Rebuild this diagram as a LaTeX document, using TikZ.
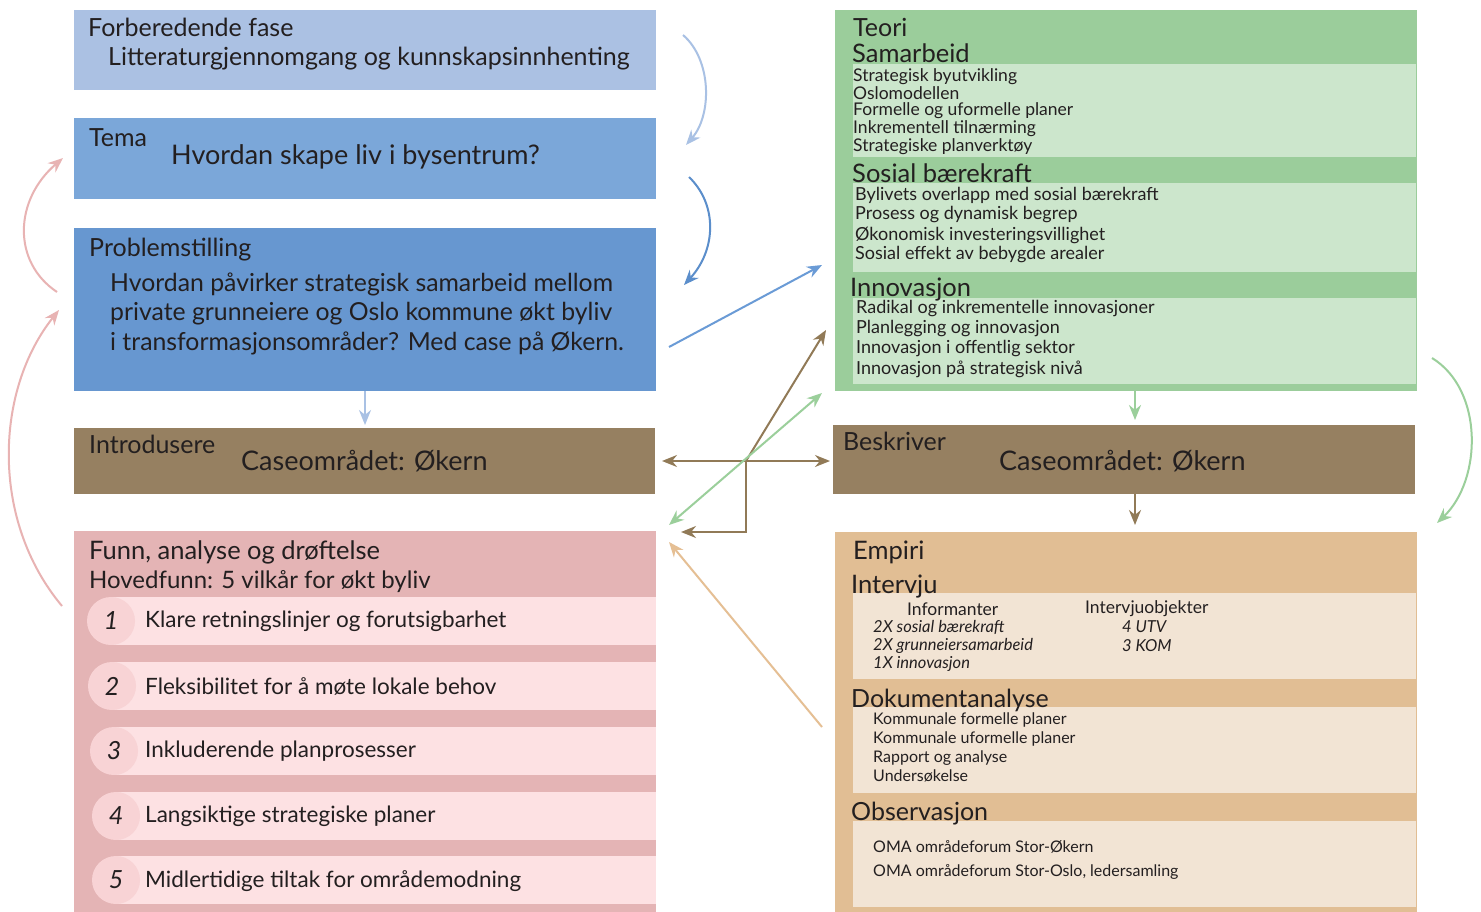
\documentclass[tikz,border=0pt]{standalone}
\usepackage{fontspec}
\setmainfont{Lato}
\usetikzlibrary{arrows.meta}
\definecolor{cFor}{HTML}{ABC1E3}
\definecolor{cTema}{HTML}{7BA7D9}
\definecolor{cProb}{HTML}{6797D0}
\definecolor{cBrown}{HTML}{968061}
\definecolor{cPink}{HTML}{E4B4B5}
\definecolor{cPinkL}{HTML}{FDE1E3}
\definecolor{cPinkC}{HTML}{F8D3D5}
\definecolor{cGreen}{HTML}{9BCD9B}
\definecolor{cGreenL}{HTML}{CCE6CC}
\definecolor{cTan}{HTML}{E1BE94}
\definecolor{cTanL}{HTML}{F2E4D4}
\definecolor{cTxt}{HTML}{231F20}
\definecolor{aLB}{HTML}{A9C1E4}
\definecolor{aB}{HTML}{5B8ECB}
\definecolor{aB2}{HTML}{6A9BD6}
\definecolor{aBr}{HTML}{917A57}
\definecolor{aG}{HTML}{9BCF9B}
\definecolor{aT}{HTML}{E5BF94}
\definecolor{aP}{HTML}{E8B3B3}
\newcommand\fsz[1]{\fontsize{#1pt}{#1pt}\selectfont}
\tikzset{
  box/.style={rectangle, inner sep=0pt, outer sep=0pt, anchor=north west, draw=none},
  txt/.style={inner sep=0pt, anchor=west, text=cTxt},
  btxt/.style={inner sep=0pt, anchor=base west, text=cTxt},
  arr/.style={line width=2pt, -{Stealth[length=15pt,width=12pt]}},
  darr/.style={line width=2pt, {Stealth[length=15pt,width=12pt]}-{Stealth[length=15pt,width=12pt]}},
  num/.style={circle, inner sep=0pt, minimum size=48pt, fill=cPinkC},
}
\begin{document}
\begin{tikzpicture}[x=1pt,y=-1pt]
\useasboundingbox (0,0) rectangle (1481,912);
\fill[white] (0,0) rectangle (1481,912);

% ---------- left column ----------
\node[box, fill=cFor, minimum width=582pt, minimum height=80pt] (for) at (74,10) {};
\node[txt, font=\fsz{25}] (forT) at (88,27) {Forberedende fase};
\node[txt, font=\fsz{25}] (forS) at (108,59) {Litteraturgjennomgang og kunnskapsinnhenting};

\node[box, fill=cTema, minimum width=582pt, minimum height=81pt] (tema) at (74,118) {};
\node[txt, font=\fsz{25}] (temaT) at (89,138) {Tema};
\node[txt, font=\fsz{27}] (temaS) at (171,157) {Hvordan skape liv i bysentrum?};

\node[box, fill=cProb, minimum width=582pt, minimum height=163pt] (prob) at (74,228) {};
\node[txt, font=\fsz{25}] (probT) at (89,250) {Problemstilling};
\node[txt, font=\fsz{24.8}] (probS1) at (110,284) {Hvordan påvirker strategisk samarbeid mellom};
\node[txt, font=\fsz{24.8}] (probS2) at (110,314) {private grunneiere og Oslo kommune økt byliv};
\node[txt, font=\fsz{24.8}] (probS3) at (110,343) {i transformasjonsområder? Med case på Økern.};

\node[box, fill=cBrown, minimum width=581pt, minimum height=66pt] (intro) at (74,428) {};
\node[txt, font=\fsz{25}] (introT) at (89,444) {Introdusere};
\node[txt, font=\fsz{27}] (introS) at (241,461) {Caseområdet: Økern};

\node[box, fill=cPink, minimum width=582pt, minimum height=381pt] (funn) at (74,531) {};
\node[txt, font=\fsz{25.5}] (funnT) at (89,552) {Funn, analyse og drøftelse};
\node[txt, font=\fsz{24}] (funnS) at (89,582) {Hovedfunn: 5 vilkår for økt byliv};

\node[box, fill=cPinkL, minimum width=544pt, minimum height=48pt] (b1) at (112,597) {};
\node[box, fill=cPinkL, minimum width=544pt, minimum height=48pt] (b2) at (112,662) {};
\node[box, fill=cPinkL, minimum width=542pt, minimum height=48pt] (b3) at (114,727) {};
\node[box, fill=cPinkL, minimum width=540pt, minimum height=48pt] (b4) at (116,792) {};
\node[box, fill=cPinkL, minimum width=540pt, minimum height=48pt] (b5) at (116,856) {};
\node[num] (n1) at (111,621) {};
\node[num] (n2) at (112,686) {};
\node[num] (n3) at (114,751) {};
\node[num] (n4) at (116,816) {};
\node[num] (n5) at (116,880) {};
\node[font=\fsz{25}\itshape, text=cTxt, inner sep=0pt] (l1) at (n1) {1};
\node[font=\fsz{25}\itshape, text=cTxt, inner sep=0pt] (l2) at (n2) {2};
\node[font=\fsz{25}\itshape, text=cTxt, inner sep=0pt] (l3) at (n3) {3};
\node[font=\fsz{25}\itshape, text=cTxt, inner sep=0pt] (l4) at (n4) {4};
\node[font=\fsz{25}\itshape, text=cTxt, inner sep=0pt] (l5) at (n5) {5};
\node[txt, font=\fsz{22.5}] (i1) at (145,621) {Klare retningslinjer og forutsigbarhet};
\node[txt, font=\fsz{22.5}] (i2) at (145,686) {Fleksibilitet for å møte lokale behov};
\node[txt, font=\fsz{22.5}] (i3) at (145,751) {Inkluderende planprosesser};
\node[txt, font=\fsz{22.5}] (i4) at (145,816) {Langsiktige strategiske planer};
\node[txt, font=\fsz{22.5}] (i5) at (145,881) {Midlertidige tiltak for områdemodning};

% ---------- right column ----------
\node[box, fill=cGreen, minimum width=582pt, minimum height=381pt] (teori) at (835,10) {};
\node[box, fill=cGreenL, minimum width=563pt, minimum height=93pt] (g1) at (853,64) {};
\node[box, fill=cGreenL, minimum width=563pt, minimum height=89pt] (g2) at (853,183) {};
\node[box, fill=cGreenL, minimum width=563pt, minimum height=86pt] (g3) at (853,298) {};
\node[txt, font=\fsz{25}] (teoriT) at (853,27) {Teori};
\node[btxt, font=\fsz{25.5}] (samT) at (852,63) {Samarbeid};
\node[txt, font=\fsz{17.5}] (s1) at (853,76.5) {Strategisk byutvikling};
\node[txt, font=\fsz{17.5}] (s2) at (853,93.5) {Oslomodellen};
\node[txt, font=\fsz{17.5}] (s3) at (853,111) {Formelle og uformelle planer};
\node[txt, font=\fsz{17.5}] (s4) at (853,129) {Inkrementell tilnærming};
\node[txt, font=\fsz{17.5}] (s5) at (853,146.5) {Strategiske planverktøy};
\node[btxt, font=\fsz{25.5}] (sosT) at (852,183) {Sosial bærekraft};
\node[txt, font=\fsz{18}] (o1) at (855,195) {Bylivets overlapp med sosial bærekraft};
\node[txt, font=\fsz{18}] (o2) at (855,215) {Prosess og dynamisk begrep};
\node[txt, font=\fsz{18}] (o3) at (855,235) {Økonomisk investeringsvillighet};
\node[txt, font=\fsz{18}] (o4) at (855,255) {Sosial effekt av bebygde arealer};
\node[btxt, font=\fsz{25.5}] (innT) at (850,297) {Innovasjon};
\node[txt, font=\fsz{18}] (v1) at (856,309) {Radikal og inkrementelle innovasjoner};
\node[txt, font=\fsz{18}] (v2) at (856,329) {Planlegging og innovasjon};
\node[txt, font=\fsz{18}] (v3) at (856,349) {Innovasjon i offentlig sektor};
\node[txt, font=\fsz{18}] (v4) at (856,369) {Innovasjon på strategisk nivå};

\node[box, fill=cBrown, minimum width=582pt, minimum height=69pt] (besk) at (833,425) {};
\node[txt, font=\fsz{25}] (beskT) at (843,441) {Beskriver};
\node[txt, font=\fsz{27}] (beskS) at (999,461) {Caseområdet: Økern};

\node[box, fill=cTan, minimum width=582pt, minimum height=380pt] (emp) at (835,532) {};
\node[box, fill=cTanL, minimum width=563pt, minimum height=86pt] (t1) at (853,593) {};
\node[box, fill=cTanL, minimum width=563pt, minimum height=86pt] (t2) at (853,707) {};
\node[box, fill=cTanL, minimum width=563pt, minimum height=86pt] (t3) at (853,821) {};
\node[txt, font=\fsz{25.5}] (empT) at (853,552) {Empiri};
\node[btxt, font=\fsz{25.5}] (intT) at (851,593) {Intervju};
\node[txt, font=\fsz{17.5}] (inf) at (907,609) {Informanter};
\node[txt, font=\fsz{17.5}] (iob) at (1085,609) {Intervjuobjekter};
\node[txt, font=\fsz{16.5}\itshape] (e1) at (873,627) {2X sosial bærekraft};
\node[txt, font=\fsz{16.5}\itshape] (e2) at (873,646) {2X grunneiersamarbeid};
\node[txt, font=\fsz{16.5}\itshape] (e3) at (873,664) {1X innovasjon};
\node[txt, font=\fsz{16.5}\itshape] (e4) at (1122,627) {4 UTV};
\node[txt, font=\fsz{16.5}\itshape] (e5) at (1122,646) {3 KOM};
\node[btxt, font=\fsz{25}] (dokT) at (851,707) {Dokumentanalyse};
\node[txt, font=\fsz{16}] (d1) at (873,720) {Kommunale formelle planer};
\node[txt, font=\fsz{16}] (d2) at (873,739) {Kommunale uformelle planer};
\node[txt, font=\fsz{16}] (d3) at (873,758) {Rapport og analyse};
\node[txt, font=\fsz{16}] (d4) at (873,776) {Undersøkelse};
\node[btxt, font=\fsz{25}] (obsT) at (851,820) {Observasjon};
\node[txt, font=\fsz{16}] (ob1) at (873,847) {OMA områdeforum Stor-Økern};
\node[txt, font=\fsz{16}] (ob2) at (873,872) {OMA områdeforum Stor-Oslo, ledersamling};

% ---------- connector end points ----------
\coordinate (lb1) at (683,35);   \coordinate (lb2) at (686,145);
\coordinate (bc1) at (689,177);  \coordinate (bc2) at (684,285);
\coordinate (bs1) at (669,347);  \coordinate (bs2) at (822,265);
\coordinate (pd1) at (365,391);  \coordinate (pd2) at (365,425);
\coordinate (p11) at (57,292);   \coordinate (p12) at (63,158);
\coordinate (p21) at (62,606);   \coordinate (p22) at (59,310);
\coordinate (hx1) at (662,461);  \coordinate (hx2) at (830,461);
\coordinate (cross) at (746,461);
\coordinate (brU) at (826,330);
\coordinate (brC) at (746,532);  \coordinate (brL) at (681,532);
\coordinate (gd1) at (669,525);  \coordinate (gd2) at (822,393);
\coordinate (ta1) at (822,727);  \coordinate (ta2) at (669,542);
\coordinate (gv1) at (1135,391); \coordinate (gv2) at (1135,420);
\coordinate (bv1) at (1135,494); \coordinate (bv2) at (1135,525);
\coordinate (gc1) at (1432,358); \coordinate (gc2) at (1437,523);

% ---------- connectors ----------
\draw[arr, aLB] (lb1) .. controls (712,60) and (712,115) .. (lb2);
\draw[arr, aB] (bc1) .. controls (718,205) and (716,250) .. (bc2);
\draw[arr, aB2] (bs1) -- (bs2);
\draw[arr, aLB] (pd1) -- (pd2);
\draw[arr, aP] (p11) .. controls (12,262) and (14,200) .. (p12);
\draw[arr, aP] (p21) .. controls (-10,520) and (-5,390) .. (p22);
\draw[darr, aBr] (hx1) -- (hx2);
\draw[arr, aBr] (cross) -- (brU);
\draw[arr, aBr] (cross) -- (brC) -- (brL);
\draw[darr, aG] (gd1) -- (gd2);
\draw[arr, aT] (ta1) -- (ta2);
\draw[arr, aG] (gv1) -- (gv2);
\draw[arr, aBr] (bv1) -- (bv2);
\draw[arr, aG] (gc1) .. controls (1484,390) and (1482,480) .. (gc2);
\end{tikzpicture}
\end{document}
